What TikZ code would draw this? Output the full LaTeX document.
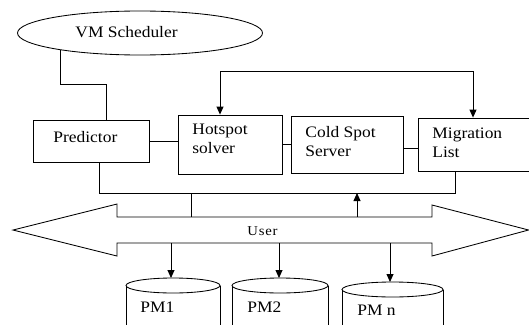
\documentclass[tikz,border=0pt]{standalone}
\usepackage{fontspec}
\setmainfont[FakeStretch=1.09]{Liberation Serif}
\usetikzlibrary{arrows.meta,shapes.geometric}
\begin{document}
\begin{tikzpicture}[x=1pt,y=-1pt,line width=0.85pt,
  box/.style={draw,rectangle,inner sep=0pt},
  lbl/.style={anchor=north west,inner sep=0pt,align=left,
              font=\fontsize{16}{19}\selectfont},
  tip/.style={-{Triangle[length=8pt,width=7pt]}},
  twotip/.style={{Triangle[length=8pt,width=7pt]}-{Triangle[length=8pt,width=7pt]}},
  disk/.style={line width=0.85pt}]
\useasboundingbox (0,0) rectangle (529,324);

% scheduler
\node[draw,ellipse,minimum width=245pt,minimum height=44pt] (sched) at (140,33) {};
\node[lbl] (schedt) at (75,26) {VM Scheduler};

% processing boxes
\node[box,minimum width=116pt,minimum height=42pt] (pred) at (91,141) {};
\node[box,minimum width=104pt,minimum height=59pt] (hot)  at (230,144.5) {};
\node[box,minimum width=112pt,minimum height=57pt] (cold) at (347,144.5) {};
\node[box,minimum width=114pt,minimum height=53pt] (mig)  at (475,144.5) {};

\node[lbl] (predt) at (53,131) {Predictor};
\node[lbl] (hott)  at (192,124) {Hotspot\\solver};
\node[lbl] (coldt) at (305,125.5) {Cold Spot\\Server};
\node[lbl] (migt)  at (432,127) {Migration\\List};

% scheduler to predictor
\coordinate (k1) at (106,84);
\draw (sched.192) |- (k1) -- (k1 |- pred.north);

% links between boxes
\draw (pred.east) -- (pred.east -| hot.west);
\draw (hot.east) -- (hot.east -| cold.west);
\draw ([yshift=-4pt]cold.east) -- ([yshift=-4pt]cold.east -| mig.west);

% feedback loop over the boxes
\coordinate (fb) at (220,71);
\coordinate (fbR) at (473,71);
\draw[twotip] ([xshift=-10pt]hot.north) -- (fb) -- (fbR) -- (fbR |- mig.north);

% collector line under the boxes
\coordinate (busR) at (455,193);
\draw ([xshift=8pt]pred.south) |- (busR) -- (busR |- mig.south);

% user channel (double arrow)
\draw (13,230) -- (117,204) -- (117,217) -- (432,217) -- (432,205)
      -- (528.6,230) -- (432,256) -- (432,243) -- (117,243) -- (117,256) -- cycle;
\node[anchor=north west,inner sep=0pt,font=\fontsize{13.5}{15}\selectfont\addfontfeature{LetterSpace=6}] (user) at (247,226) {User};

\coordinate (tapA) at (191,193);
\coordinate (tapB) at (191,217);
\draw (tapA) -- (tapB);
\coordinate (upA) at (357,217);
\coordinate (upB) at (357,193);
\draw[tip] (upA) -- (upB);

% physical machines
\foreach \n/\cx/\rx/\cy/\ax in {1/173/47/285.5/171, 2/280/48/285.5/279, 3/392.5/50.5/289.5/390}{
  \draw[disk] (\cx,\cy) ellipse [x radius=\rx pt, y radius=7.5pt];
  \draw[disk] (\cx-\rx,\cy) -- (\cx-\rx,330);
  \draw[disk] (\cx+\rx,\cy) -- (\cx+\rx,330);
  \coordinate (pmtop\n) at (\ax,\cy-7.5);
  \coordinate (pmsrc\n) at (\ax,243);
  \draw[tip] (pmsrc\n) -- (pmtop\n);
}
\node[lbl] (pm1) at (140,301.5) {PM1};
\node[lbl] (pm2) at (247,301.5) {PM2};
\node[lbl] (pmn) at (357,304.5) {PM n};
\end{tikzpicture}
\end{document}
